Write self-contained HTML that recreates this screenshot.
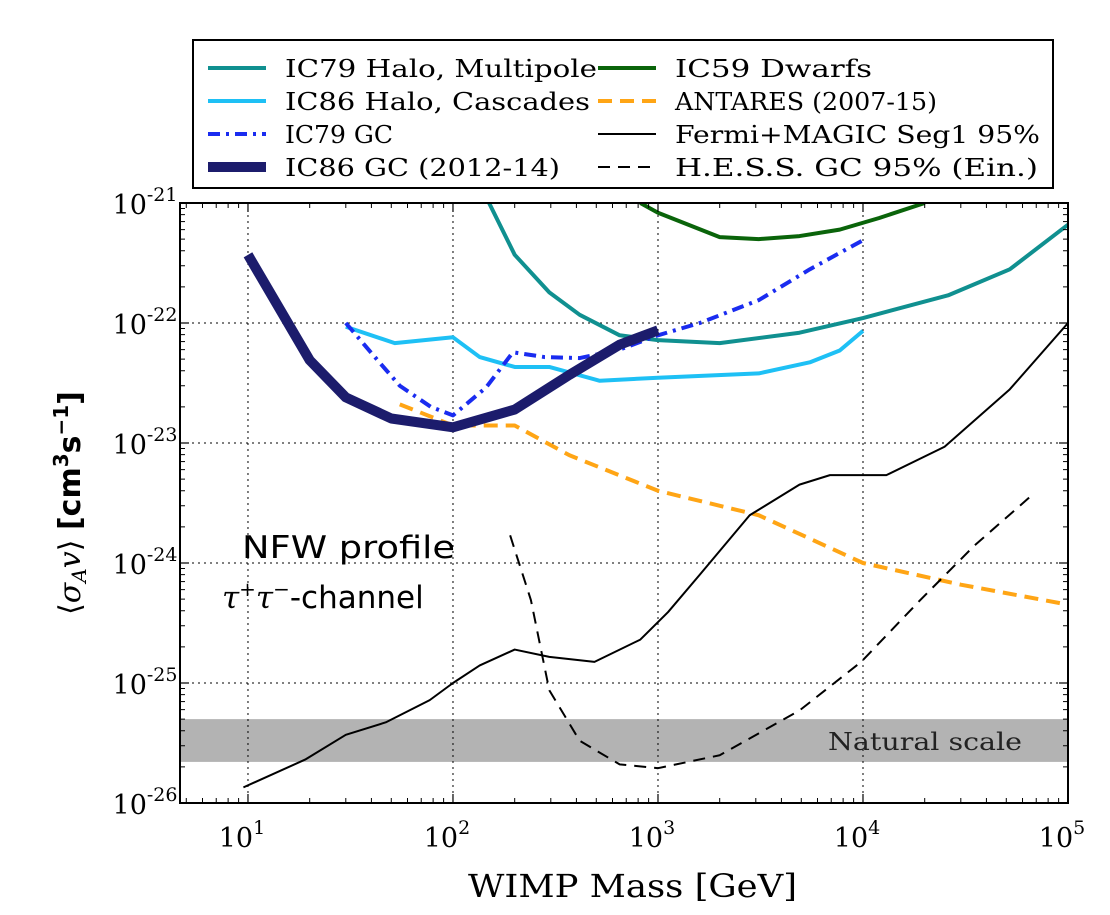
<!DOCTYPE html>
<html><head><meta charset="utf-8"><style>
html,body{margin:0;padding:0;background:#fff;}
svg{display:block;font-family:"DejaVu Serif","Liberation Serif",serif;}
</style></head><body>
<svg id="chart" width="1110" height="915" viewBox="0 0 1110 915">
<g id="band"></g>
<g id="grid"></g>
<g id="series"></g>
<g id="axes"></g>
<text x="828" y="750" font-size="24" fill="#222" textLength="194" lengthAdjust="spacingAndGlyphs">Natural scale</text>
<text x="242" y="558" font-size="31" font-family="DejaVu Sans, sans-serif" textLength="213" lengthAdjust="spacingAndGlyphs">NFW profile</text>
<text x="222" y="608" font-size="31"><tspan font-style="italic">τ</tspan><tspan font-size="20" dy="-12">+</tspan><tspan font-style="italic" dy="12">τ</tspan><tspan font-size="20" dy="-12">−</tspan><tspan dy="12" font-family="DejaVu Sans, sans-serif">-channel</tspan></text>
<text x="468" y="897" font-size="32" textLength="329" lengthAdjust="spacingAndGlyphs">WIMP Mass [GeV]</text>
<text transform="translate(80,503) rotate(-90)" font-size="30" text-anchor="middle">⟨<tspan font-style="italic">σ</tspan><tspan font-size="20" dy="6" font-style="italic">A</tspan><tspan dy="-6" font-style="italic">v</tspan>⟩ <tspan font-family="DejaVu Sans, sans-serif" font-weight="bold">[cm<tspan font-size="20" dy="-12">3</tspan><tspan dy="12">s</tspan><tspan font-size="20" dy="-12">−1</tspan><tspan dy="12">]</tspan></tspan></text>
<g id="legend"></g>
</svg>
<script>
const xTickExps=[1,2,3,4,5];
const yTickExps=[-21,-22,-23,-24,-25,-26];
const haloMultMass=[150,200,295,415,650,1000,2000,4900,10000,26000,52000,100000];
const haloMultSig=[1e-21,3.7e-22,1.8e-22,1.17e-22,7.9e-23,7.2e-23,6.8e-23,8.3e-23,1.1e-22,1.7e-22,2.8e-22,6.6e-22];
const haloCascMass=[30,52,100,135,200,295,520,1000,3100,5500,7700,10000];
const haloCascSig=[9.3e-23,6.8e-23,7.6e-23,5.2e-23,4.3e-23,4.3e-23,3.3e-23,3.5e-23,3.8e-23,4.7e-23,5.9e-23,8.6e-23];
const gc79Mass=[30,42,55,78,100,145,196,280,415,650,1000,1600,3100,5500,10000];
const gc79Sig=[1e-22,5.1e-23,3e-23,2e-23,1.7e-23,2.9e-23,5.7e-23,5.2e-23,5.1e-23,6e-23,7.9e-23,1e-22,1.55e-22,2.8e-22,4.9e-22];
const gc86Mass=[10,20,30,50,100,200,370,650,1000];
const gc86Sig=[3.7e-22,4.9e-23,2.4e-23,1.6e-23,1.35e-23,1.9e-23,3.7e-23,6.6e-23,8.7e-23];
const dwarfMass=[820,1000,2000,3100,4900,7700,12000,20000];
const dwarfSig=[1e-21,8.3e-22,5.2e-22,5e-22,5.3e-22,6e-22,7.5e-22,1e-21];
const antaresMass=[55,100,200,370,1000,3100,10000,30000,100000];
const antaresSig=[2.1e-23,1.4e-23,1.4e-23,7.9e-24,4e-24,2.5e-24,1e-24,6.6e-25,4.5e-25];
const fermiMass=[9.5,19,30,47,77,100,135,200,295,490,820,1120,1600,2800,4900,6900,13000,25000,52000,100000];
const fermiSig=[1.35e-26,2.3e-26,3.7e-26,4.7e-26,7.2e-26,1e-25,1.4e-25,1.9e-25,1.65e-25,1.5e-25,2.3e-25,3.9e-25,8e-25,2.5e-24,4.5e-24,5.4e-24,5.4e-24,9.3e-24,2.8e-23,1e-22];
const hessMass=[190,240,295,415,650,1000,2000,4900,9800,19000,35000,67000];
const hessSig=[1.7e-24,4.9e-25,8.7e-26,3.3e-26,2.1e-26,1.95e-26,2.5e-26,5.9e-26,1.5e-25,4.9e-25,1.4e-24,3.7e-24];
const bandRange=[2.2e-26,5e-26];

const L=180,R=1068,T=203,B=803;
const xMinLog=Math.log10(4.66),xMaxLog=5;
const yMinLog=-26,yMaxLog=-21;
const X=m=>L+(Math.log10(m)-xMinLog)/(xMaxLog-xMinLog)*(R-L);
const Y=s=>B-(Math.log10(s)-yMinLog)/(yMaxLog-yMinLog)*(B-T);
const NS='http://www.w3.org/2000/svg';
function mk(tag,attrs,parent){const e=document.createElementNS(NS,tag);for(const k in attrs)e.setAttribute(k,attrs[k]);parent.appendChild(e);return e;}
const grid=document.getElementById('grid'),axes=document.getElementById('axes'),series=document.getElementById('series'),band=document.getElementById('band'),legend=document.getElementById('legend');

const bandRect=mk('rect',{x:L,width:R-L,y:Y(bandRange[1]),height:Y(bandRange[0])-Y(bandRange[1]),fill:'#b3b3b3'},band);



xTickExps.forEach(e=>{
  const x=X(Math.pow(10,e));
  if(e<5){const g=mk('line',{x1:x,x2:x,y1:T,y2:B,stroke:'#000','stroke-width':1,'stroke-dasharray':'2,4'},grid);
  
  }
  mk('line',{x1:x,x2:x,y1:B,y2:B-9,stroke:'#000','stroke-width':1.2},axes);
  mk('line',{x1:x,x2:x,y1:T,y2:T+9,stroke:'#000','stroke-width':1.2},axes);
  const t=mk('text',{x:x-6,y:B+44,'font-size':27,'text-anchor':'middle'},axes);
  
  
  t.innerHTML='10<tspan font-size="19" dy="-13">'+e+'</tspan>';
});
for(let d=0;d<=5;d++)for(let k=2;k<=9;k++){const m=k*Math.pow(10,d);if(m<4.66||m>1e5)continue;const x=X(m);
  mk('line',{x1:x,x2:x,y1:B,y2:B-5,stroke:'#000'},axes);mk('line',{x1:x,x2:x,y1:T,y2:T+5,stroke:'#000'},axes);}
yTickExps.forEach(e=>{
  const y=Y(Math.pow(10,e));
  if(e>-26&&e<-21){const g=mk('line',{x1:L,x2:R,y1:y,y2:y,stroke:'#000','stroke-width':1,'stroke-dasharray':'2,4'},grid);
  
  }
  mk('line',{x1:L,x2:L+9,y1:y,y2:y,stroke:'#000','stroke-width':1.2},axes);
  mk('line',{x1:R,x2:R-9,y1:y,y2:y,stroke:'#000','stroke-width':1.2},axes);
  const t=mk('text',{x:145,y:y+11,'font-size':27,'text-anchor':'middle'},axes);
  
  
  t.innerHTML='10<tspan font-size="19" dy="-13">'+e+'</tspan>';
});
for(let d=-26;d<-21;d++)for(let k=2;k<=9;k++){const y=Y(k*Math.pow(10,d));
  mk('line',{x1:L,x2:L+5,y1:y,y2:y,stroke:'#000'},axes);mk('line',{x1:R,x2:R-5,y1:y,y2:y,stroke:'#000'},axes);}
const frame=mk('rect',{x:L,y:T,width:R-L,height:B-T,fill:'none',stroke:'#000','stroke-width':2},axes);



const defs=[
 {name:'ic79-halo-multipole',m:haloMultMass,s:haloMultSig,c:'#109090',w:4,d:''},
 {name:'ic86-halo-cascades',m:haloCascMass,s:haloCascSig,c:'#1ec0f5',w:4,d:''},
 {name:'ic59-dwarfs',m:dwarfMass,s:dwarfSig,c:'#0a640a',w:4,d:''},
 {name:'antares',m:antaresMass,s:antaresSig,c:'#ffa515',w:4,d:'14,8'},
 {name:'fermi-magic-seg1',m:fermiMass,s:fermiSig,c:'#000',w:2,d:''},
 {name:'hess-gc',m:hessMass,s:hessSig,c:'#000',w:2,d:'12,8'},
 {name:'ic79-gc',m:gc79Mass,s:gc79Sig,c:'#1a2cf0',w:4,d:'12,6,3,6'},
 {name:'ic86-gc',m:gc86Mass,s:gc86Sig,c:'#1c1c6c',w:10,d:''}
];
const svg=document.getElementById('chart');
const cp=mk('clipPath',{id:'clip'},svg);mk('rect',{x:L,y:T,width:R-L,height:B-T},cp);
series.setAttribute('clip-path','url(#clip)');
defs.forEach(s=>{
  const p=mk('polyline',{points:s.m.map((m,i)=>X(m)+','+Y(s.s[i])).join(' '),fill:'none',stroke:s.c,'stroke-width':s.w,'stroke-dasharray':s.d,'stroke-linejoin':'round'},series);
  
  
});

const lb=mk('rect',{x:193,y:40,width:860,height:148,fill:'#fff',stroke:'#000','stroke-width':2},legend);


const entries=[
 ['IC79 Halo, Multipole','#109090',4,'',0,0,312],['IC86 Halo, Cascades','#1ec0f5',4,'',0,1,305],['IC79 GC','#1a2cf0',4,'12,6,3,6',0,2,108],['IC86 GC (2012-14)','#1c1c6c',10,'',0,3,275],
 ['IC59 Dwarfs','#0a640a',4,'',1,0,197],['ANTARES (2007-15)','#ffa515',4,'14,8',1,1,262],['Fermi+MAGIC Seg1 95%','#000',2,'',1,2,365],['H.E.S.S. GC 95% (Ein.)','#000',2,'12,8',1,3,363]
];
entries.forEach(e=>{
  const x0=e[4]?598:208,y=68+e[5]*33;
  const g=mk('g',{},legend);
  
  
  mk('line',{x1:x0,x2:x0+58,y1:y,y2:y,stroke:e[1],'stroke-width':e[2],'stroke-dasharray':e[3]},g);
  const t=mk('text',{x:x0+77,y:y+9,'font-size':24,textLength:e[6],lengthAdjust:'spacingAndGlyphs'},g);t.textContent=e[0];
});
</script>
</body></html>
